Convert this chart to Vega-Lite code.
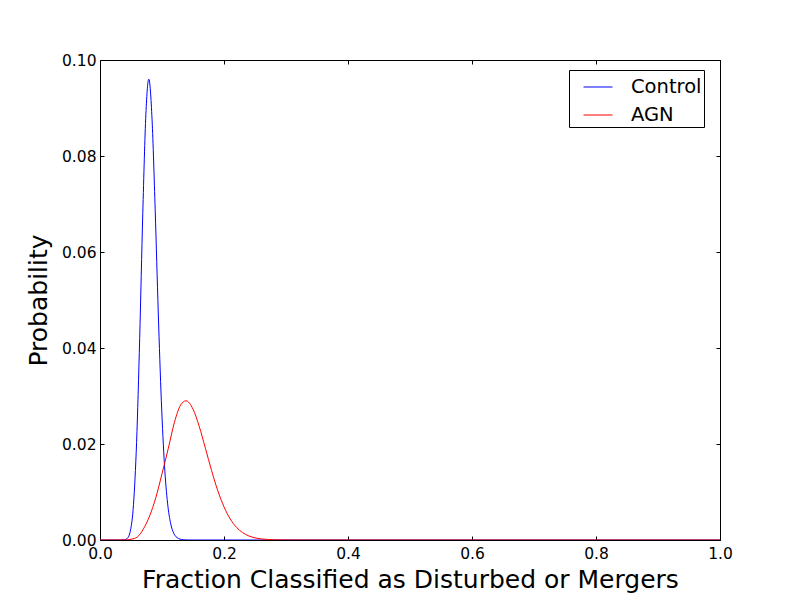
{
  "$schema": "https://vega.github.io/schema/vega-lite/v6.json",
  "autosize": "none",
  "width": 620,
  "height": 480,
  "padding": {"left": 100, "top": 60, "right": 80, "bottom": 60},
  "background": "white",
  "config": {
    "view": {"stroke": null},
    "axis": {
      "domainColor": "black", "tickColor": "black", "labelColor": "black", "titleColor": "black",
      "labelFont": "DejaVu Sans", "titleFont": "DejaVu Sans", "titleFontWeight": "normal",
      "labelFontSize": 15.5, "titleFontSize": 25, "grid": false, "tickSize": -4, "labelPadding": 8,
      "domainWidth": 1, "tickWidth": 1, "labelFlush": false, "labelOverlap": false
    },
    "legend": {
      "labelFont": "DejaVu Sans", "labelFontSize": 19.5, "labelColor": "black"
    }
  },
  "datasets": {
    "curves": [
      {"s": "Control", "x": 0.0, "p": 0},
      {"s": "Control", "x": 0.029, "p": 0},
      {"s": "Control", "x": 0.034, "p": 0.000002},
      {"s": "Control", "x": 0.039, "p": 0.000035},
      {"s": "Control", "x": 0.044, "p": 0.00033},
      {"s": "Control", "x": 0.049, "p": 0.00192},
      {"s": "Control", "x": 0.054, "p": 0.00735},
      {"s": "Control", "x": 0.059, "p": 0.0203},
      {"s": "Control", "x": 0.064, "p": 0.042},
      {"s": "Control", "x": 0.069, "p": 0.068},
      {"s": "Control", "x": 0.074, "p": 0.0887},
      {"s": "Control", "x": 0.0787, "p": 0.096},
      {"s": "Control", "x": 0.084, "p": 0.0875},
      {"s": "Control", "x": 0.089, "p": 0.0688},
      {"s": "Control", "x": 0.094, "p": 0.0473},
      {"s": "Control", "x": 0.099, "p": 0.0288},
      {"s": "Control", "x": 0.104, "p": 0.0156},
      {"s": "Control", "x": 0.109, "p": 0.00767},
      {"s": "Control", "x": 0.114, "p": 0.00341},
      {"s": "Control", "x": 0.119, "p": 0.00139},
      {"s": "Control", "x": 0.124, "p": 0.00052},
      {"s": "Control", "x": 0.129, "p": 0.00018},
      {"s": "Control", "x": 0.134, "p": 0.000058},
      {"s": "Control", "x": 0.139, "p": 0.000018},
      {"s": "Control", "x": 0.144, "p": 0.000005},
      {"s": "Control", "x": 0.155, "p": 0},
      {"s": "Control", "x": 1.0, "p": 0},
      {"s": "AGN", "x": 0.0, "p": 0},
      {"s": "AGN", "x": 0.03, "p": 0.000002},
      {"s": "AGN", "x": 0.04, "p": 0.00002},
      {"s": "AGN", "x": 0.05, "p": 0.00015},
      {"s": "AGN", "x": 0.055, "p": 0.0003},
      {"s": "AGN", "x": 0.06, "p": 0.0006},
      {"s": "AGN", "x": 0.07, "p": 0.0023},
      {"s": "AGN", "x": 0.08, "p": 0.005},
      {"s": "AGN", "x": 0.09, "p": 0.0088},
      {"s": "AGN", "x": 0.1, "p": 0.0138},
      {"s": "AGN", "x": 0.11, "p": 0.019},
      {"s": "AGN", "x": 0.12, "p": 0.0245},
      {"s": "AGN", "x": 0.13, "p": 0.0281},
      {"s": "AGN", "x": 0.1387, "p": 0.029},
      {"s": "AGN", "x": 0.15, "p": 0.02726},
      {"s": "AGN", "x": 0.16, "p": 0.02369},
      {"s": "AGN", "x": 0.17, "p": 0.01912},
      {"s": "AGN", "x": 0.18, "p": 0.01445},
      {"s": "AGN", "x": 0.19, "p": 0.01027},
      {"s": "AGN", "x": 0.2, "p": 0.0069},
      {"s": "AGN", "x": 0.21, "p": 0.00439},
      {"s": "AGN", "x": 0.22, "p": 0.00266},
      {"s": "AGN", "x": 0.23, "p": 0.00154},
      {"s": "AGN", "x": 0.24, "p": 0.00085},
      {"s": "AGN", "x": 0.25, "p": 0.00045},
      {"s": "AGN", "x": 0.26, "p": 0.00023},
      {"s": "AGN", "x": 0.27, "p": 0.000112},
      {"s": "AGN", "x": 0.28, "p": 0.000053},
      {"s": "AGN", "x": 0.29, "p": 0.000024},
      {"s": "AGN", "x": 0.3, "p": 0.00001},
      {"s": "AGN", "x": 0.32, "p": 0},
      {"s": "AGN", "x": 1.0, "p": 0}
    ]
  },
  "data": {"name": "curves"},
  "layer": [
    {
      "layer": [
        {
          "transform": [{"filter": "datum.s === 'Control'"}],
          "mark": {"type": "line", "interpolate": "monotone", "strokeWidth": 1, "clip": true},
          "encoding": {
            "x": {"field": "x", "type": "quantitative", "scale": {"domain": [0, 1], "nice": false},
                  "axis": {"title": "Fraction Classified as Disturbed or Mergers", "values": [0, 0.2, 0.4, 0.6, 0.8, 1.0], "format": ".1f", "titlePadding": 6, "labelPadding": 10}},
            "y": {"field": "p", "type": "quantitative", "scale": {"domain": [0, 0.1], "nice": false},
                  "axis": {"title": "Probability", "values": [0, 0.02, 0.04, 0.06, 0.08, 0.1], "format": ".2f", "titlePadding": 10}},
            "color": {"field": "s", "type": "nominal",
                      "scale": {"domain": ["Control", "AGN"], "range": ["#0000ff", "#ff0000"]},
                      "legend": {"title": null, "orient": "none", "legendX": 469, "legendY": 10,
                                 "symbolType": "stroke", "symbolSize": 841, "symbolStrokeWidth": 1,
                                 "symbolOffset": 12,
                                 "strokeColor": "black", "fillColor": "white", "padding": 2,
                                 "rowPadding": 3, "labelOffset": 18, "cornerRadius": 0}}
          }
        },
        {
          "transform": [{"filter": "datum.s === 'AGN'"}],
          "mark": {"type": "line", "interpolate": "monotone", "strokeWidth": 1, "clip": true},
          "encoding": {
            "x": {"field": "x", "type": "quantitative"},
            "y": {"field": "p", "type": "quantitative"},
            "color": {"field": "s", "type": "nominal"}
          }
        }
      ]
    },
    {
      "mark": {"type": "line", "opacity": 0},
      "encoding": {
        "x": {"field": "x", "type": "quantitative", "scale": {"domain": [0, 1], "nice": false},
              "axis": {"orient": "top", "labels": false, "title": null, "values": [0, 0.2, 0.4, 0.6, 0.8, 1.0]}},
        "y": {"field": "p", "type": "quantitative", "scale": {"domain": [0, 0.1], "nice": false},
              "axis": {"orient": "right", "labels": false, "title": null, "values": [0, 0.02, 0.04, 0.06, 0.08, 0.1]}},
        "detail": {"field": "s"}
      }
    }
  ],
  "resolve": {"axis": {"x": "independent", "y": "independent"}}
}
